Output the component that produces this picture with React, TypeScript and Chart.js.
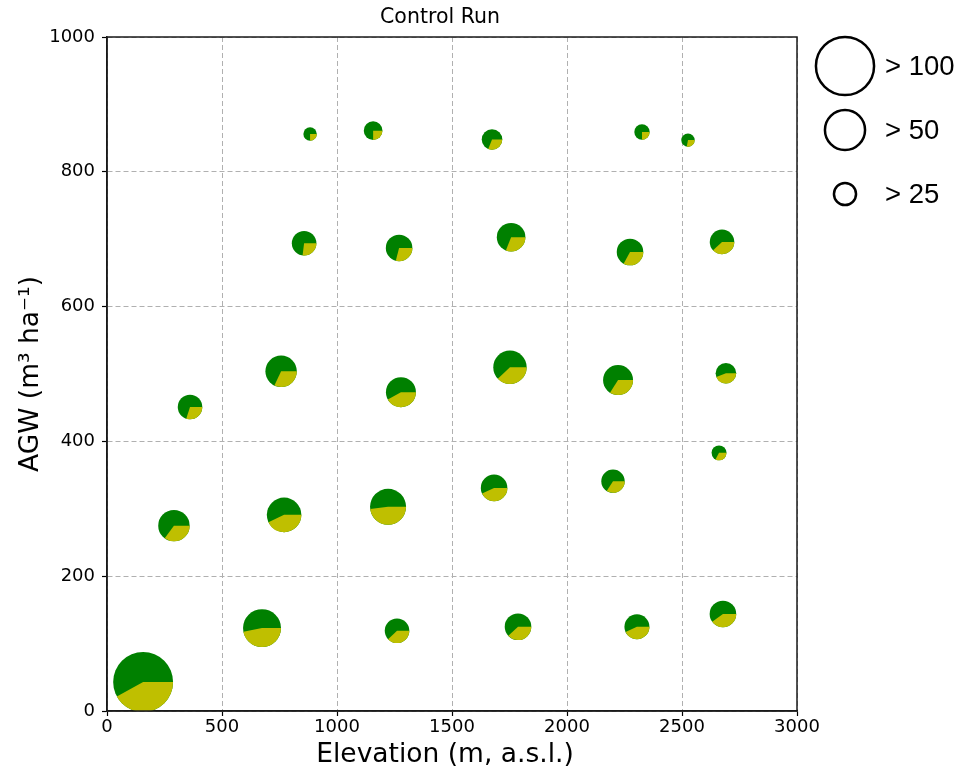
import React, { useEffect, useRef } from "react";
import { Chart, registerables } from "chart.js";

Chart.register(...registerables);

// Elevation (m a.s.l.) of each stand
const elevation = [157, 674, 1261, 1787, 2304, 2678, 291, 770, 1222, 1683, 2200, 2661, 361, 757, 1278, 1752, 2222, 2691, 857, 1270, 1757, 2274, 2674, 883, 1157, 1674, 2326, 2526];
// AGW (m3 ha-1)
const agw = [43, 123, 119, 125, 125, 144, 275, 291, 303, 331, 341, 383, 451, 504, 473, 510, 491, 501, 694, 687, 703, 681, 696, 856, 861, 848, 859, 847];
// Total amount encoded by pie size
const total = [107, 46, 27.5, 29.7, 28, 29.7, 35.8, 40.4, 42.7, 29.7, 26.3, 19, 27.5, 35.8, 33.9, 38.6, 33.9, 23.6, 27.5, 29.7, 32.1, 29.7, 27.5, 17.9, 21.9, 23.6, 19.3, 17.9];
// Share of the green (first) wedge
const greenShare = [0.58, 0.53, 0.62, 0.62, 0.57, 0.6, 0.65, 0.57, 0.52, 0.57, 0.66, 0.67, 0.7, 0.68, 0.58, 0.62, 0.66, 0.56, 0.73, 0.71, 0.69, 0.67, 0.62, 0.75, 0.75, 0.69, 0.75, 0.72];

const legendValues = [100, 50, 25];
const legendLabels = ["> 100", "> 50", "> 25"];

const xTicks = [0, 500, 1000, 1500, 2000, 2500, 3000];
const yTicks = [0, 200, 400, 600, 800, 1000];

const GREEN = "#008000";
const YELLOW = "#bfbf00";
const radiusOf = (v: number) => 13 * Math.log(v) - 30.8;

export default function App() {
  const ref = useRef<HTMLCanvasElement | null>(null);

  useEffect(() => {
    if (!ref.current) return;

    const piePlugin = {
      id: "pies",
      afterDatasetsDraw(chart: any) {
        const ctx = chart.ctx;
        const meta = chart.getDatasetMeta(0);
        ctx.save();
        const a = chart.chartArea;
        ctx.beginPath();
        ctx.rect(a.left, a.top, a.right - a.left, a.bottom - a.top);
        ctx.clip();
        meta.data.forEach((el: any, i: number) => {
          const r = radiusOf(total[i]);
          const end = (1 - greenShare[i]) * Math.PI * 2;
          ctx.beginPath();
          ctx.moveTo(el.x, el.y);
          ctx.arc(el.x, el.y, r, 0, end, false);
          ctx.closePath();
          ctx.fillStyle = YELLOW;
          ctx.fill();
        });
        ctx.restore();
      },
      afterDraw(chart: any) {
        const ctx = chart.ctx;
        const a = chart.chartArea;
        ctx.save();
        ctx.strokeStyle = "#1a1a1a";
        ctx.lineWidth = 1.5;
        ctx.strokeRect(a.left, a.top, a.right - a.left, a.bottom - a.top);
        // title
        ctx.fillStyle = "#000";
        ctx.font = "20.5px 'DejaVu Sans'";
        ctx.textAlign = "center";
        ctx.textBaseline = "middle";
        ctx.fillText("Control Run", (a.left + a.right) / 2 - 12, 18);
        // x-axis title
        ctx.font = "26.5px 'DejaVu Sans'";
        ctx.fillText("Elevation (m, a.s.l.)", (a.left + a.right) / 2 - 7, 755);
        // size legend
        const cys = [66, 130, 194];
        legendValues.forEach((v, i) => {
          const r = radiusOf(v);
          ctx.beginPath();
          ctx.arc(845, cys[i], r, 0, Math.PI * 2);
          ctx.lineWidth = 2.5;
          ctx.strokeStyle = "#000";
          ctx.stroke();
          ctx.fillStyle = "#000";
          ctx.font = "27.5px 'Liberation Sans', Arial, sans-serif";
          ctx.textAlign = "left";
          ctx.textBaseline = "middle";
          ctx.fillText(legendLabels[i], 885, cys[i] + 1);
        });
        ctx.restore();
      },
    };

    const tickFont = { family: "'DejaVu Sans'", size: 18 };
    const grid = {
      color: "#b0b0b0",
      lineWidth: 1,
      tickColor: "#000",
      tickLength: 5,
      tickWidth: 1.2,
      tickBorderDash: [],
    };
    const border = { display: true, color: "#1a1a1a", width: 1.5, dash: [5, 3] };

    const chart = new Chart(ref.current, {
      type: "bubble",
      data: {
        datasets: [
          {
            data: elevation.map((x, i) => ({ x, y: agw[i], r: radiusOf(total[i]) })),
            backgroundColor: GREEN,
            borderWidth: 0,
            hoverBorderWidth: 0,
          },
        ],
      },
      plugins: [piePlugin],
      options: {
        animation: false,
        responsive: true,
        maintainAspectRatio: false,
        events: [],
        layout: { padding: { left: 15, right: 172, top: 37, bottom: 0 } },
        plugins: {
          legend: { display: false },
          tooltip: { enabled: false },
          title: { display: false },
        },
        scales: {
          x: {
            type: "linear",
            min: 0,
            max: 3000,
            afterBuildTicks: (s: any) => {
              s.ticks = xTicks.map((v) => ({ value: v }));
            },
            afterFit: (s: any) => {
              s.height = 60;
            },
            ticks: {
              color: "#000",
              font: tickFont,
              padding: 1,
              callback: (v: any) => String(v),
            },
            grid,
            border,
            title: { display: false },
          },
          y: {
            type: "linear",
            min: 0,
            max: 1000,
            afterBuildTicks: (s: any) => {
              s.ticks = yTicks.map((v) => ({ value: v }));
            },
            afterFit: (s: any) => {
              s.width = 92;
            },
            ticks: {
              color: "#000",
              font: tickFont,
              padding: 7,
              callback: (v: any) => String(v),
            },
            grid,
            border,
            title: {
              display: true,
              text: "AGW (m³ ha⁻¹)",
              color: "#000",
              font: { family: "'DejaVu Sans'", size: 26.5 },
              padding: { top: 0, bottom: 4 },
            },
          },
        },
      } as any,
    });
    return () => chart.destroy();
  }, []);

  return (
    <div style={{ position: "absolute", left: 0, top: 0, width: 969, height: 771, background: "#fff" }}>
      <canvas ref={ref} />
    </div>
  );
}
